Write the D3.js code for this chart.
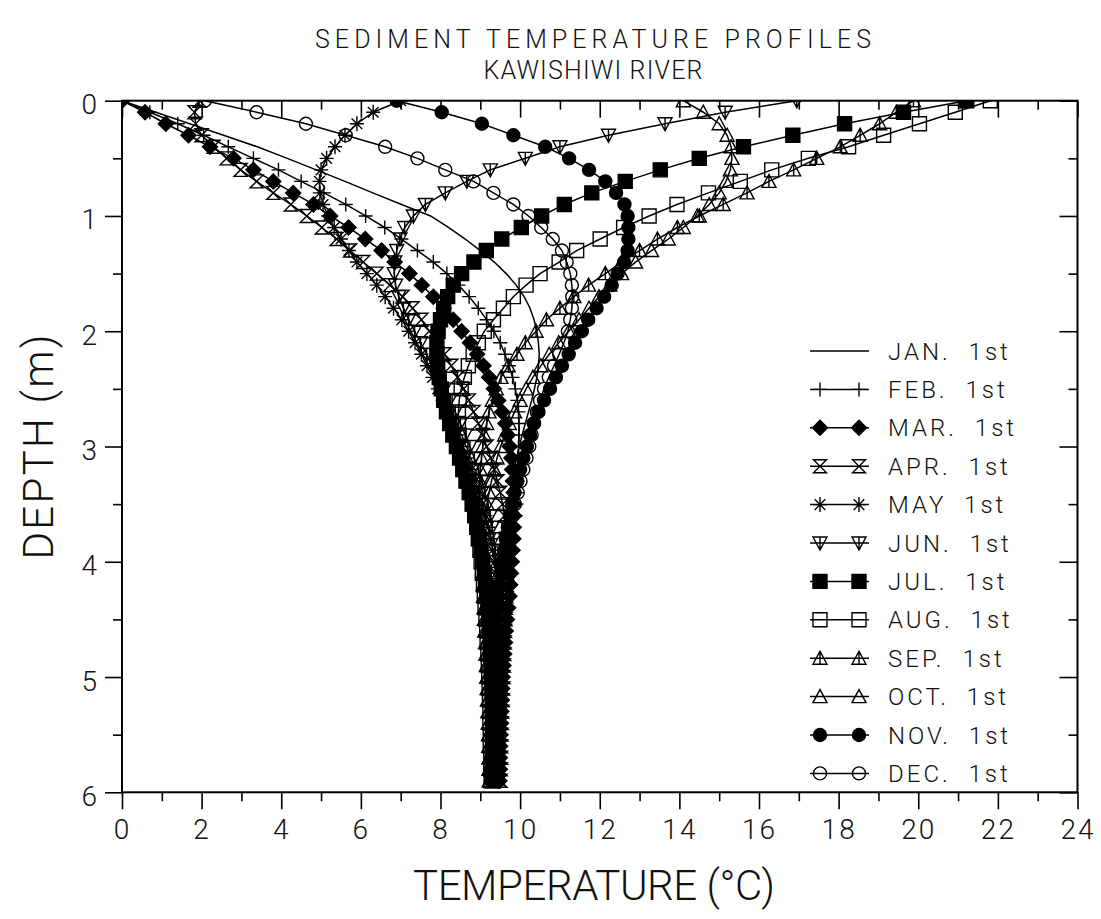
<!DOCTYPE html>
<html>
<head>
<meta charset="utf-8">
<script src="https://cdn.jsdelivr.net/npm/d3@7"></script>
<style>
  html, body { margin: 0; padding: 0; background: #fff; }
  svg { display: block; }
  text { font-family: Roboto, "Liberation Sans", sans-serif; font-weight: 300; fill: #111; }
</style>
</head>
<body>
<svg id="chart" width="1101" height="919"></svg>
<script>
// Sediment depth of each reading (m)
const depth = [0.0,0.1,0.2,0.3,0.4,0.5,0.6,0.7,0.8,0.9,
  1.0,1.1,1.2,1.3,1.4,1.5,1.6,1.7,1.8,1.9,
  2.0,2.1,2.2,2.3,2.4,2.5,2.6,2.7,2.8,2.9,
  3.0,3.1,3.2,3.3,3.4,3.5,3.6,3.7,3.8,3.9,
  4.0,4.1,4.2,4.3,4.4,4.5,4.6,4.7,4.8,4.9,
  5.0,5.1,5.2,5.3,5.4,5.5,5.6,5.7,5.8,5.9];

// Temperature profiles (deg C), one value per depth above
const jan = [0.00,0.85,1.70,2.55,3.40,4.15,4.88,5.60,6.30,7.02,
  7.75,8.20,8.62,9.00,9.35,9.65,9.90,10.10,10.25,10.35,
  10.42,10.46,10.48,10.46,10.42,10.36,10.29,10.21,10.13,10.05,
  9.98,9.91,9.85,9.79,9.74,9.69,9.65,9.61,9.58,9.55,
  9.52,9.50,9.48,9.46,9.45,9.44,9.43,9.42,9.41,9.40,
  9.40,9.39,9.39,9.38,9.38,9.37,9.37,9.36,9.36,9.35];
const feb = [0.00,0.70,1.40,2.05,2.67,3.30,3.93,4.50,5.07,5.62,
  6.12,6.60,7.02,7.42,7.82,8.16,8.45,8.72,8.95,9.16,
  9.34,9.50,9.62,9.72,9.81,9.88,9.93,9.96,9.97,9.97,
  9.96,9.95,9.94,9.93,9.92,9.91,9.89,9.86,9.83,9.80,
  9.77,9.74,9.71,9.68,9.66,9.63,9.61,9.59,9.57,9.55,
  9.53,9.52,9.51,9.50,9.49,9.48,9.47,9.47,9.46,9.46];
const mar = [0.00,0.58,1.10,1.67,2.21,2.80,3.30,3.80,4.30,4.81,
  5.23,5.69,6.11,6.52,6.85,7.22,7.53,7.82,8.08,8.32,
  8.53,8.74,8.92,9.08,9.22,9.34,9.45,9.55,9.63,9.69,
  9.74,9.78,9.80,9.82,9.84,9.85,9.85,9.84,9.83,9.81,
  9.79,9.77,9.75,9.73,9.70,9.67,9.64,9.62,9.60,9.58,
  9.56,9.55,9.54,9.53,9.52,9.51,9.50,9.49,9.49,9.48];
const apr = [1.95,1.82,1.85,2.00,2.30,2.63,2.98,3.38,3.80,4.24,
  4.64,5.02,5.39,5.73,6.06,6.40,6.73,7.05,7.30,7.52,
  7.72,7.92,8.10,8.27,8.43,8.58,8.71,8.83,8.95,9.06,
  9.16,9.26,9.35,9.43,9.50,9.56,9.61,9.64,9.66,9.67,
  9.67,9.67,9.66,9.65,9.64,9.63,9.62,9.61,9.60,9.59,
  9.58,9.57,9.56,9.55,9.54,9.53,9.52,9.52,9.51,9.51];
const may = [7.00,6.31,5.90,5.60,5.35,5.14,5.00,4.96,4.97,5.05,
  5.18,5.33,5.50,5.70,5.90,6.15,6.40,6.61,6.82,7.03,
  7.20,7.36,7.52,7.66,7.80,7.93,8.05,8.17,8.30,8.42,
  8.54,8.66,8.77,8.87,8.96,9.05,9.13,9.20,9.26,9.31,
  9.36,9.40,9.43,9.46,9.48,9.50,9.51,9.52,9.52,9.52,
  9.52,9.52,9.51,9.51,9.50,9.50,9.49,9.49,9.48,9.48];
const jun = [16.95,15.15,13.64,12.22,11.00,10.13,9.25,8.66,8.12,7.62,
  7.32,7.10,6.98,6.90,6.85,6.84,6.87,6.95,7.07,7.20,
  7.35,7.50,7.65,7.80,7.95,8.09,8.23,8.37,8.50,8.62,
  8.74,8.85,8.95,9.04,9.12,9.19,9.25,9.30,9.34,9.37,
  9.39,9.41,9.42,9.43,9.44,9.45,9.45,9.46,9.46,9.46,
  9.46,9.46,9.46,9.46,9.46,9.45,9.45,9.45,9.45,9.45];
const jul = [21.22,19.63,18.15,16.85,15.61,14.50,13.52,12.64,11.80,11.11,
  10.54,10.03,9.54,9.15,8.84,8.53,8.32,8.18,8.08,8.00,
  7.94,7.91,7.91,7.93,7.97,8.02,8.08,8.15,8.23,8.31,
  8.40,8.48,8.56,8.64,8.72,8.80,8.86,8.92,8.97,9.02,
  9.06,9.10,9.13,9.16,9.19,9.21,9.23,9.25,9.26,9.27,
  9.28,9.29,9.30,9.30,9.31,9.31,9.32,9.32,9.33,9.33];
const aug = [21.81,20.93,20.03,19.13,18.25,17.24,16.32,15.53,14.73,13.94,
  13.24,12.60,12.01,11.42,10.98,10.50,10.15,9.83,9.58,9.33,
  9.10,8.95,8.82,8.70,8.60,8.52,8.47,8.45,8.45,8.47,
  8.51,8.56,8.62,8.68,8.74,8.80,8.86,8.91,8.95,8.99,
  9.02,9.05,9.08,9.10,9.12,9.14,9.16,9.17,9.19,9.20,
  9.21,9.22,9.23,9.24,9.24,9.25,9.25,9.26,9.26,9.27];
const sep = [19.88,19.45,19.03,18.54,18.04,17.45,16.87,16.25,15.70,15.10,
  14.50,13.95,13.45,13.00,12.55,12.14,11.72,11.35,11.00,10.66,
  10.40,10.13,9.92,9.70,9.52,9.40,9.30,9.22,9.16,9.10,
  9.06,9.03,9.00,8.99,8.98,8.98,8.99,9.00,9.02,9.04,
  9.06,9.08,9.10,9.11,9.13,9.14,9.15,9.16,9.17,9.18,
  9.19,9.19,9.20,9.20,9.21,9.21,9.22,9.22,9.22,9.23];
const oct = [14.10,14.60,15.00,15.20,15.30,15.32,15.28,15.17,15.00,14.75,
  14.45,14.10,13.72,13.30,12.90,12.55,12.25,11.98,11.73,11.48,
  11.22,10.97,10.73,10.52,10.32,10.15,10.00,9.86,9.73,9.61,
  9.51,9.42,9.35,9.28,9.22,9.17,9.13,9.10,9.08,9.07,
  9.06,9.06,9.07,9.08,9.09,9.10,9.11,9.13,9.14,9.15,
  9.16,9.17,9.18,9.19,9.20,9.21,9.21,9.22,9.22,9.23];
const nov = [6.90,8.03,9.04,9.83,10.63,11.23,11.73,12.14,12.41,12.62,
  12.70,12.72,12.72,12.70,12.61,12.45,12.30,12.11,11.92,11.71,
  11.55,11.38,11.22,11.05,10.90,10.75,10.60,10.46,10.34,10.25,
  10.17,10.08,10.00,9.93,9.86,9.80,9.74,9.69,9.64,9.59,
  9.55,9.51,9.48,9.45,9.42,9.40,9.38,9.36,9.34,9.33,
  9.32,9.31,9.30,9.29,9.29,9.28,9.28,9.27,9.27,9.27];
const dec = [2.08,3.38,4.62,5.62,6.61,7.42,8.12,8.83,9.33,9.83,
  10.21,10.53,10.82,11.05,11.17,11.26,11.30,11.31,11.30,11.26,
  11.20,11.10,10.98,10.85,10.72,10.60,10.50,10.42,10.35,10.29,
  10.23,10.16,10.08,10.01,9.94,9.87,9.81,9.76,9.71,9.67,
  9.63,9.59,9.56,9.53,9.50,9.48,9.46,9.44,9.42,9.40,
  9.39,9.38,9.37,9.36,9.35,9.34,9.33,9.33,9.32,9.32];

const seriesLabels = ["JAN. 1st","FEB. 1st","MAR. 1st","APR. 1st","MAY 1st","JUN. 1st",
                      "JUL. 1st","AUG. 1st","SEP. 1st","OCT. 1st","NOV. 1st","DEC. 1st"];
const seriesValues = [jan, feb, mar, apr, may, jun, jul, aug, sep, oct, nov, dec];
const seriesMarkers = [null,"plus","diamond","hourglass","asterisk","triDownBar",
                       "square","squareOpen","triUpBar","triUp","dot","ring"];

const xTickValues = [0,2,4,6,8,10,12,14,16,18,20,22,24];
const xTickLabels = ["0","2","4","6","8","10","12","14","16","18","20","22","24"];
const yTickValues = [0,1,2,3,4,5,6];
const yTickLabels = ["0","1","2","3","4","5","6"];

const titleLines = ["SEDIMENT TEMPERATURE PROFILES", "KAWISHIWI RIVER"];
const xTitle = "TEMPERATURE (\u00B0C)";
const yTitle = "DEPTH (m)";

// ---- layout ----
const plot = { left: 122, right: 1077.5, top: 100.7, bottom: 792.3 };

const svg = d3.select("#chart");
const x = d3.scaleLinear().domain([0, 24]).range([plot.left, plot.right]);
const y = d3.scaleLinear().domain([0, 6]).range([plot.top, plot.bottom]);

// marker shapes
const ringPath = r => `M${-r},0A${r},${r} 0 1,0 ${r},0A${r},${r} 0 1,0 ${-r},0Z`;
const MARKERS = {
  plus:       { d: "M-7,0H7M0,-7V7", fill: "none" },
  diamond:    { d: "M0,-7.5L7.5,0L0,7.5L-7.5,0Z", fill: "#000" },
  hourglass:  { d: "M-6.5,-6.5H6.5L-6.5,6.5H6.5Z", fill: "none" },
  asterisk:   { d: "M-7,0H7M0,-7.5V7.5M-5.3,-5.3L5.3,5.3M-5.3,5.3L5.3,-5.3", fill: "none" },
  triDownBar: { d: "M-7,-6H7L0,7Z M0,-6V7", fill: "none" },
  square:     { d: "M-7,-7H7V7H-7Z", fill: "#000" },
  squareOpen: { d: "M-7,-7H7V7H-7Z", fill: "none" },
  triUpBar:   { d: "M-7,6H7L0,-7Z M0,-7V6", fill: "none" },
  triUp:      { d: "M-7,6H7L0,-7Z", fill: "none" },
  dot:        { d: ringPath(6.5), fill: "#000" },
  ring:       { d: ringPath(6.5), fill: "none" }
};

// clip for data marks
svg.append("defs").append("clipPath").attr("id", "plotClip")
  .append("rect")
  .attr("x", plot.left).attr("y", plot.top)
  .attr("width", plot.right - plot.left).attr("height", plot.bottom - plot.top);

const series = seriesLabels.map((label, i) => ({
  label,
  marker: seriesMarkers[i],
  points: depth.map((d, j) => ({ d, t: seriesValues[i][j] }))
}));

const line = d3.line().x(p => x(p.t)).y(p => y(p.d));

const dataG = svg.append("g").attr("clip-path", "url(#plotClip)");
series.forEach(s => {
  const g = dataG.append("g");
  g.append("path")
    .attr("d", line(s.points))
    .attr("fill", "none")
    .attr("stroke", "#000")
    .attr("stroke-width", 1.5);
  if (s.marker) {
    const m = MARKERS[s.marker];
    g.selectAll("path.mk").data(s.points).join("path")
      .attr("class", "mk")
      .attr("transform", p => `translate(${x(p.t)},${y(p.d)})`)
      .attr("d", m.d)
      .attr("fill", m.fill)
      .attr("stroke", "#000")
      .attr("stroke-width", 1.4);
  }
});

// ---- axes ----
const tickStyle = g => {
  g.select(".domain").remove();
  g.selectAll(".tick line").attr("stroke", "#000").attr("stroke-width", 1.6);
};
const xMinor = [1,3,5,7,9,11,13,15,17,19,21,23];
const yMinor = [0.5, 1.5, 2.5, 3.5, 4.5, 5.5];

// bottom: labelled major ticks outward, minor ticks outward
svg.append("g").attr("transform", `translate(0,${plot.bottom})`)
  .call(d3.axisBottom(x).tickValues(xTickValues).tickSize(17)
        .tickFormat((d, i) => xTickLabels[i]))
  .call(tickStyle)
  .call(g => g.selectAll(".tick text")
      .attr("y", 47).attr("dy", null)
      .attr("font-size", 28).attr("font-family", null)
      .style("letter-spacing", "2px"));
svg.append("g").attr("transform", `translate(0,${plot.bottom})`)
  .call(d3.axisBottom(x).tickValues(xMinor).tickSize(9).tickFormat(""))
  .call(tickStyle);

// top: inward ticks
svg.append("g").attr("transform", `translate(0,${plot.top})`)
  .call(d3.axisTop(x).tickValues(xTickValues).tickSize(-17).tickFormat(""))
  .call(tickStyle);
svg.append("g").attr("transform", `translate(0,${plot.top})`)
  .call(d3.axisTop(x).tickValues(xMinor).tickSize(-9).tickFormat(""))
  .call(tickStyle);

// left: labelled major ticks outward
svg.append("g").attr("transform", `translate(${plot.left},0)`)
  .call(d3.axisLeft(y).tickValues(yTickValues).tickSize(17)
        .tickFormat((d, i) => yTickLabels[i]))
  .call(tickStyle)
  .call(g => g.selectAll(".tick text")
      .attr("x", -25).attr("dy", null).attr("y", 13)
      .attr("font-size", 28).attr("font-family", null));
svg.append("g").attr("transform", `translate(${plot.left},0)`)
  .call(d3.axisLeft(y).tickValues(yMinor).tickSize(9).tickFormat(""))
  .call(tickStyle);

// right: inward ticks
svg.append("g").attr("transform", `translate(${plot.right},0)`)
  .call(d3.axisRight(y).tickValues(yTickValues).tickSize(-18).tickFormat(""))
  .call(tickStyle);
svg.append("g").attr("transform", `translate(${plot.right},0)`)
  .call(d3.axisRight(y).tickValues(yMinor).tickSize(-9).tickFormat(""))
  .call(tickStyle);

// frame
svg.append("rect")
  .attr("x", plot.left).attr("y", plot.top)
  .attr("width", plot.right - plot.left).attr("height", plot.bottom - plot.top)
  .attr("fill", "none").attr("stroke", "#000").attr("stroke-width", 2);

// ---- titles ----
svg.append("text").attr("x", 593).attr("y", 48)
  .attr("text-anchor", "middle").attr("font-size", 25)
  .attr("textLength", 556).attr("lengthAdjust", "spacing")
  .text(titleLines[0]);
svg.append("text").attr("x", 593).attr("y", 79)
  .attr("text-anchor", "middle").attr("font-size", 25)
  .attr("textLength", 219).attr("lengthAdjust", "spacing")
  .text(titleLines[1]);

svg.append("text").attr("x", 594).attr("y", 900)
  .attr("text-anchor", "middle").attr("font-size", 42)
  .attr("textLength", 362).attr("lengthAdjust", "spacing")
  .text(xTitle);

svg.append("text")
  .attr("transform", "translate(53,447) rotate(-90)")
  .attr("text-anchor", "middle").attr("font-size", 42)
  .attr("textLength", 225).attr("lengthAdjust", "spacing")
  .text(yTitle);

// ---- legend ----
const legend = svg.append("g");
const rowY = i => 351 + 38.4 * i;
series.forEach((s, i) => {
  const g = legend.append("g").attr("transform", `translate(0,${rowY(i)})`);
  g.append("line").attr("x1", 810).attr("x2", 869).attr("y1", 0).attr("y2", 0)
    .attr("stroke", "#000").attr("stroke-width", 1.5);
  if (s.marker) {
    const m = MARKERS[s.marker];
    [820, 859].forEach(mx => {
      g.append("path").attr("transform", `translate(${mx},0)`)
        .attr("d", m.d).attr("fill", m.fill)
        .attr("stroke", "#000").attr("stroke-width", 1.4);
    });
  }
  g.append("text").attr("x", 888).attr("y", 8.5)
    .attr("font-size", 24)
    .style("letter-spacing", "3px").style("word-spacing", "9px")
    .text(s.label);
});
</script>
</body>
</html>
